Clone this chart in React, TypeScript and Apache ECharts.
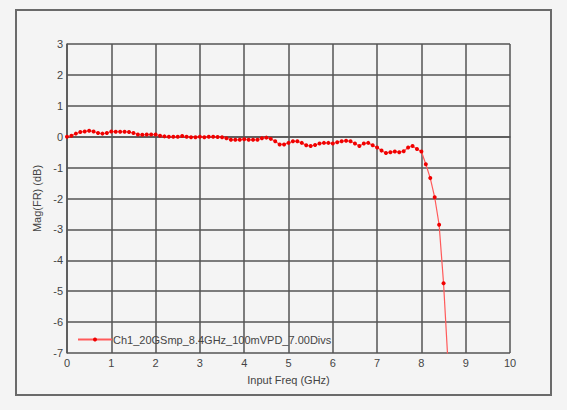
import { useEffect, useRef } from 'react';
import * as echarts from 'echarts';

// frequency in GHz, step 0.1
const freqs: number[] = [
  0.0, 0.1, 0.2, 0.3, 0.4, 0.5, 0.6, 0.7, 0.8, 0.9,
  1.0, 1.1, 1.2, 1.3, 1.4, 1.5, 1.6, 1.7, 1.8, 1.9,
  2.0, 2.1, 2.2, 2.3, 2.4, 2.5, 2.6, 2.7, 2.8, 2.9,
  3.0, 3.1, 3.2, 3.3, 3.4, 3.5, 3.6, 3.7, 3.8, 3.9,
  4.0, 4.1, 4.2, 4.3, 4.4, 4.5, 4.6, 4.7, 4.8, 4.9,
  5.0, 5.1, 5.2, 5.3, 5.4, 5.5, 5.6, 5.7, 5.8, 5.9,
  6.0, 6.1, 6.2, 6.3, 6.4, 6.5, 6.6, 6.7, 6.8, 6.9,
  7.0, 7.1, 7.2, 7.3, 7.4, 7.5, 7.6, 7.7, 7.8, 7.9,
  8.0, 8.1, 8.2, 8.3, 8.4, 8.5, 8.6,
];

// Mag(FR) in dB
const magDb: number[] = [
  0.0, 0.03, 0.1, 0.15, 0.17, 0.19, 0.17, 0.12, 0.1, 0.12,
  0.17, 0.16, 0.16, 0.16, 0.15, 0.12, 0.07, 0.06, 0.07, 0.07,
  0.07, 0.03, 0.01, 0.0, 0.0, 0.0, 0.02, 0.0, -0.02, -0.02,
  0.0, -0.02, 0.0, 0.0, -0.01, -0.02, -0.05, -0.1, -0.1, -0.1,
  -0.08, -0.1, -0.1, -0.1, -0.05, -0.03, -0.07, -0.15, -0.25, -0.25,
  -0.2, -0.15, -0.15, -0.2, -0.28, -0.3, -0.27, -0.22, -0.2, -0.2,
  -0.22, -0.18, -0.15, -0.13, -0.15, -0.22, -0.3, -0.22, -0.2, -0.28,
  -0.35, -0.45, -0.53, -0.5, -0.48, -0.5, -0.47, -0.35, -0.3, -0.4,
  -0.48, -0.89, -1.34, -1.96, -2.85, -4.74, -7.3,
];

const seriesName = 'Ch1_20GSmp_8.4GHz_100mVPD_7.00Divs';

export default function App() {
  const chartRef = useRef<HTMLDivElement>(null);

  useEffect(() => {
    if (!chartRef.current) return;
    const chart = echarts.init(chartRef.current, undefined, { renderer: 'svg' });

    const font = '"Liberation Sans", Arial, sans-serif';

    chart.setOption({
      animation: false,
      backgroundColor: '#f4f4f4',
      textStyle: { fontFamily: font },
      grid: { left: 67, top: 44, right: 57, bottom: 57 },
      graphic: [
        {
          type: 'rect',
          shape: { x: 16, y: 10, width: 535, height: 385 },
          style: { fill: 'none', stroke: '#6a6a6a', lineWidth: 2 },
          silent: true,
        },
      ],
      legend: {
        left: 77,
        top: 334,
        itemWidth: 34,
        itemHeight: 5,
        itemGap: 4,
        padding: 0,
        data: [seriesName],
        textStyle: { color: '#444', fontSize: 11, fontFamily: font, padding: [0, 0, 0, -4] },
      },
      xAxis: {
        type: 'value',
        min: 0,
        max: 10,
        interval: 1,
        name: 'Input Freq (GHz)',
        nameLocation: 'middle',
        nameGap: 21,
        nameTextStyle: { color: '#444', fontSize: 11, fontFamily: font },
        axisLine: { show: true, lineStyle: { color: '#555', width: 1.5 } },
        axisTick: { show: false },
        axisLabel: { color: '#444', fontSize: 11, margin: 4, fontFamily: font },
        splitLine: { show: true, lineStyle: { color: '#555', width: 1.5 } },
      },
      yAxis: {
        type: 'value',
        min: -7,
        max: 3,
        interval: 1,
        name: 'Mag(FR) (dB)',
        nameLocation: 'middle',
        nameGap: 22,
        nameTextStyle: { color: '#444', fontSize: 11, fontFamily: font },
        axisLine: { show: true, lineStyle: { color: '#555', width: 1.5 } },
        axisTick: { show: false },
        axisLabel: { color: '#444', fontSize: 11, margin: 4, fontFamily: font },
        splitLine: { show: true, lineStyle: { color: '#555', width: 1.5 } },
      },
      series: [
        {
          name: seriesName,
          type: 'line',
          data: freqs.map((f, i) => [f, magDb[i]]),
          symbol: 'circle',
          symbolSize: 4,
          showAllSymbol: true,
          clip: true,
          lineStyle: { color: '#ff5a5a', width: 1.2 },
          itemStyle: { color: '#f00000' },
        },
      ],
    });

    return () => chart.dispose();
  }, []);

  return (
    <div
      ref={chartRef}
      style={{ position: 'fixed', left: 0, top: 0, width: 567, height: 410 }}
    />
  );
}
